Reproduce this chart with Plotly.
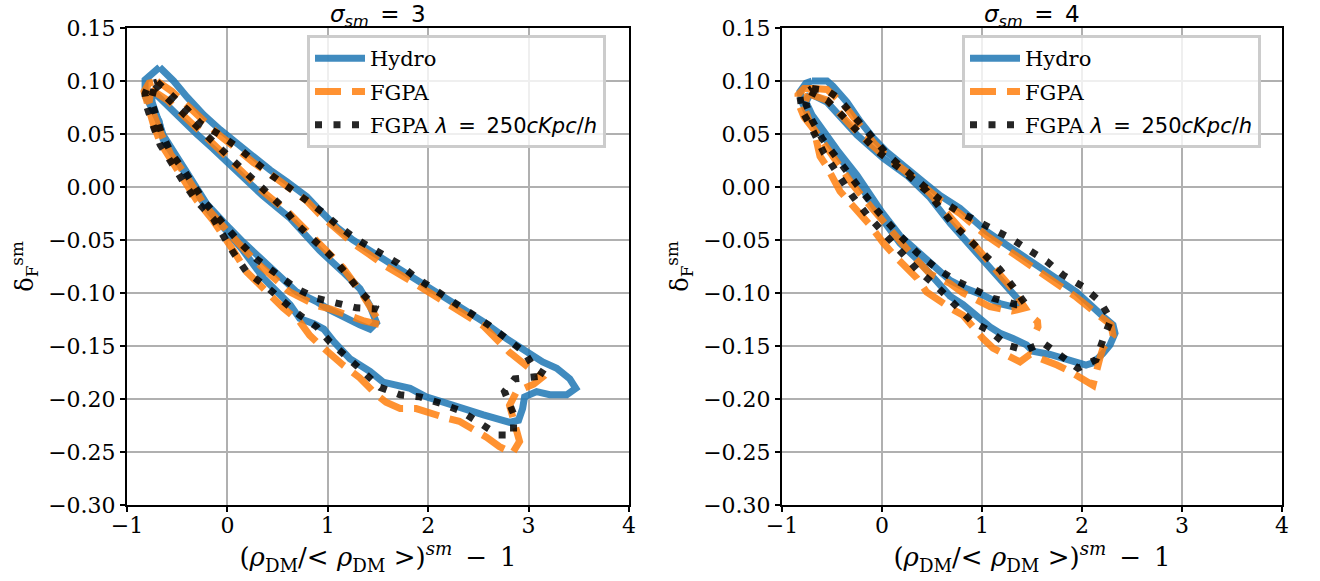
import plotly.graph_objects as go

# ---------------- data ----------------
# Panel 1: sigma_sm = 3
hydro3_outer_x = [-0.675,-0.536,-0.403,-0.237,-0.072,0.094,0.26,0.426,0.59,0.79,0.92,1.09,1.25,1.42,1.553,1.885,2.216,2.548,2.78,2.98,3.14,3.28,3.41,3.47,3.38,3.21,3.08,2.96,2.94,2.90,2.81,2.55,2.35,2.15,1.98,1.82,1.55,1.42,1.22,1.06,0.96,0.86,0.72,0.625,0.49,0.36,0.29,0.157,-0.04,-0.207,-0.406,-0.52,-0.64,-0.68,-0.75,-0.82,-0.82,-0.675]
hydro3_outer_y = [0.113,0.100,0.085,0.068,0.054,0.041,0.027,0.016,0.005,-0.009,-0.022,-0.038,-0.050,-0.060,-0.069,-0.088,-0.108,-0.127,-0.143,-0.155,-0.165,-0.171,-0.181,-0.190,-0.196,-0.196,-0.193,-0.198,-0.209,-0.220,-0.222,-0.215,-0.209,-0.204,-0.198,-0.190,-0.184,-0.174,-0.162,-0.146,-0.134,-0.129,-0.124,-0.111,-0.099,-0.086,-0.077,-0.060,-0.038,-0.020,0.011,0.027,0.045,0.062,0.075,0.086,0.101,0.113]
hydro3_inner_x = [-0.76,-0.605,-0.45,-0.306,-0.14,0.025,0.19,0.35,0.62,0.92,1.15,1.32,1.42,1.485,1.42,1.318,1.02,0.887,0.69,0.49,0.29,0.157,-0.04,-0.207,-0.406,-0.52,-0.64,-0.70,-0.75,-0.76]
hydro3_inner_y = [0.092,0.077,0.064,0.050,0.036,0.021,0.007,-0.008,-0.029,-0.060,-0.080,-0.096,-0.112,-0.128,-0.134,-0.130,-0.116,-0.108,-0.099,-0.082,-0.064,-0.052,-0.033,-0.016,0.014,0.031,0.049,0.066,0.080,0.092]

fgpa3_outer_x = [-0.70,-0.55,-0.40,-0.24,-0.07,0.094,0.26,0.43,0.59,0.79,0.92,1.09,1.25,1.42,1.55,1.885,2.216,2.548,2.81,3.01,3.13,3.05,2.88,2.81,2.86,2.91,2.84,2.71,2.58,2.45,2.31,2.18,2.01,1.88,1.72,1.58,1.485,1.318,1.152,1.02,0.887,0.82,0.72,0.555,0.39,0.19,0.06,-0.14,-0.31,-0.44,-0.57,-0.67,-0.74,-0.80,-0.83,-0.78,-0.70]
fgpa3_outer_y = [0.100,0.090,0.077,0.062,0.048,0.036,0.023,0.012,0.001,-0.013,-0.026,-0.041,-0.053,-0.064,-0.073,-0.092,-0.112,-0.131,-0.156,-0.171,-0.180,-0.186,-0.193,-0.206,-0.221,-0.240,-0.251,-0.245,-0.236,-0.228,-0.221,-0.218,-0.213,-0.209,-0.209,-0.203,-0.196,-0.180,-0.168,-0.158,-0.146,-0.140,-0.127,-0.114,-0.099,-0.080,-0.060,-0.032,-0.012,0.007,0.026,0.042,0.060,0.077,0.090,0.098,0.100]
fgpa3_inner_x = [-0.76,-0.60,-0.30,0.03,0.35,0.62,0.92,1.15,1.35,1.45,1.53,1.35,1.22,1.02,0.89,0.62,0.455,0.29,0.10,-0.06,-0.22,-0.42,-0.56,-0.66,-0.72,-0.78,-0.76]
fgpa3_inner_y = [0.092,0.082,0.055,0.026,-0.004,-0.025,-0.055,-0.076,-0.102,-0.117,-0.130,-0.126,-0.121,-0.115,-0.112,-0.099,-0.085,-0.071,-0.052,-0.036,-0.018,0.012,0.030,0.050,0.066,0.080,0.092]

lam3_outer_x = [-0.70,-0.55,-0.40,-0.27,-0.07,0.094,0.26,0.44,0.62,0.79,0.95,1.12,1.30,1.50,1.70,1.87,2.05,2.23,2.42,2.60,2.78,2.96,3.05,3.18,2.86,2.76,2.85,2.85,2.70,2.51,2.32,2.12,1.92,1.72,1.52,1.35,1.19,1.02,0.89,0.72,0.545,0.39,0.19,0.06,-0.14,-0.31,-0.44,-0.57,-0.67,-0.74,-0.80,-0.82,-0.78,-0.70]
lam3_outer_y = [0.099,0.087,0.073,0.060,0.049,0.038,0.025,0.011,-0.001,-0.012,-0.024,-0.038,-0.050,-0.061,-0.072,-0.085,-0.096,-0.108,-0.119,-0.130,-0.143,-0.156,-0.170,-0.178,-0.181,-0.193,-0.214,-0.234,-0.234,-0.222,-0.211,-0.204,-0.198,-0.196,-0.189,-0.174,-0.160,-0.146,-0.132,-0.121,-0.107,-0.094,-0.080,-0.062,-0.030,-0.013,0.005,0.024,0.040,0.058,0.075,0.088,0.097,0.099]
lam3_inner_x = [-0.72,-0.60,-0.30,0.03,0.35,0.56,0.69,0.86,1.02,1.17,1.30,1.42,1.49,1.285,1.085,0.887,0.69,0.505,0.29,0.10,-0.06,-0.22,-0.42,-0.56,-0.66,-0.72,-0.76,-0.72]
lam3_inner_y = [0.097,0.084,0.057,0.028,-0.002,-0.020,-0.035,-0.050,-0.064,-0.080,-0.096,-0.108,-0.115,-0.114,-0.110,-0.105,-0.096,-0.083,-0.068,-0.050,-0.033,-0.015,0.014,0.032,0.052,0.068,0.082,0.097]

# Panel 2: sigma_sm = 4
hydro4_outer_x = [-0.70,-0.55,-0.49,-0.35,-0.22,-0.086,0.048,0.214,0.41,0.58,0.78,1.046,1.345,1.645,1.944,2.21,2.31,2.33,2.28,2.21,2.11,2.04,1.845,1.68,1.51,1.445,1.31,1.18,1.08,0.946,0.81,0.68,0.48,0.35,0.18,0.0,-0.25,-0.45,-0.60,-0.72,-0.80,-0.82,-0.76,-0.70]
hydro4_outer_y = [0.100,0.100,0.095,0.080,0.062,0.046,0.033,0.021,0.005,-0.008,-0.020,-0.042,-0.061,-0.080,-0.099,-0.122,-0.130,-0.138,-0.149,-0.157,-0.166,-0.168,-0.162,-0.158,-0.155,-0.149,-0.143,-0.138,-0.132,-0.121,-0.111,-0.103,-0.082,-0.068,-0.053,-0.030,0.006,0.030,0.050,0.065,0.080,0.090,0.098,0.100]
hydro4_inner_x = [-0.72,-0.55,-0.25,0.014,0.25,0.48,0.68,0.946,1.18,1.31,1.38,1.31,1.18,1.01,0.846,0.68,0.48,0.35,0.18,0.0,-0.25,-0.45,-0.60,-0.70,-0.76,-0.72]
hydro4_inner_y = [0.088,0.080,0.049,0.027,0.011,-0.010,-0.034,-0.062,-0.086,-0.099,-0.108,-0.113,-0.110,-0.102,-0.096,-0.088,-0.072,-0.061,-0.046,-0.024,0.011,0.035,0.054,0.068,0.080,0.088]

fgpa4_outer_x = [-0.68,-0.55,-0.49,-0.35,-0.22,-0.086,0.048,0.214,0.41,0.58,0.78,1.046,1.345,1.645,1.944,2.18,2.29,2.31,2.21,2.18,2.15,2.11,1.88,1.75,1.48,1.38,1.11,1.01,0.81,0.68,0.445,0.35,0.147,0.015,-0.12,-0.25,-0.42,-0.55,-0.62,-0.68,-0.78,-0.84,-0.84,-0.78,-0.68]
fgpa4_outer_y = [0.093,0.092,0.087,0.074,0.058,0.042,0.029,0.016,0.001,-0.012,-0.025,-0.046,-0.065,-0.084,-0.104,-0.122,-0.130,-0.140,-0.152,-0.161,-0.171,-0.187,-0.174,-0.168,-0.158,-0.165,-0.152,-0.143,-0.121,-0.114,-0.099,-0.086,-0.067,-0.053,-0.036,-0.022,-0.004,0.019,0.029,0.054,0.066,0.080,0.087,0.093,0.093]
fgpa4_inner_x = [-0.74,-0.55,-0.25,0.014,0.25,0.48,0.68,0.946,1.18,1.31,1.43,1.30,1.08,0.81,0.68,0.48,0.30,0.10,-0.10,-0.30,-0.50,-0.62,-0.72,-0.78,-0.74]
fgpa4_inner_y = [0.088,0.082,0.052,0.030,0.014,-0.006,-0.028,-0.058,-0.082,-0.097,-0.114,-0.117,-0.113,-0.100,-0.091,-0.082,-0.064,-0.043,-0.020,0.003,0.030,0.046,0.060,0.076,0.088]
# small isolated FGPA contour island near (1.55, -0.13)
fgpa4_island_x = [1.53, 1.555, 1.56, 1.545]
fgpa4_island_y = [-0.125, -0.127, -0.132, -0.135]

lam4_outer_x = [-0.70,-0.55,-0.45,-0.33,-0.20,-0.07,0.06,0.22,0.40,0.58,0.78,0.93,1.08,1.28,1.46,1.645,1.81,2.01,2.18,2.29,2.21,2.14,1.96,1.79,1.61,1.43,1.245,1.08,0.90,0.73,0.55,0.35,0.17,0.0,-0.15,-0.30,-0.45,-0.58,-0.70,-0.80,-0.82,-0.70]
lam4_outer_y = [0.093,0.091,0.085,0.072,0.057,0.043,0.030,0.017,0.002,-0.012,-0.024,-0.031,-0.039,-0.048,-0.059,-0.070,-0.083,-0.094,-0.108,-0.125,-0.144,-0.163,-0.171,-0.160,-0.147,-0.154,-0.149,-0.136,-0.127,-0.111,-0.094,-0.078,-0.060,-0.043,-0.026,-0.008,0.012,0.032,0.055,0.072,0.085,0.093]
lam4_inner_x = [-0.72,-0.55,-0.30,-0.05,0.20,0.45,0.70,0.86,1.01,1.18,1.31,1.44,1.345,1.11,0.93,0.73,0.55,0.35,0.15,-0.05,-0.25,-0.45,-0.60,-0.70,-0.76,-0.72]
lam4_inner_y = [0.090,0.082,0.058,0.034,0.016,-0.004,-0.034,-0.048,-0.063,-0.078,-0.094,-0.111,-0.111,-0.105,-0.097,-0.088,-0.077,-0.062,-0.043,-0.022,0.002,0.026,0.046,0.063,0.078,0.090]

series_names = [
    "Hydro",
    "FGPA",
    "FGPA <span style='font-family:DejaVu Sans'><i>λ</i>\u2002=\u2002250<i>cKpc</i>/<i>h</i></span>",
]
panel_titles = ["<i>σ<sub>sm</sub></i>\u2002=\u20023", "<i>σ<sub>sm</sub></i>\u2002=\u20024"]
x_ticks = [-1, 0, 1, 2, 3, 4]
y_ticks = [0.15, 0.10, 0.05, 0.00, -0.05, -0.10, -0.15, -0.20, -0.25, -0.30]

# ---------------- styling ----------------
W, H = 1320, 581
SERIF = "DejaVu Serif"
SANS = "DejaVu Sans"
styles = [
    dict(color="#1f77b4", dash="solid"),
    dict(color="#ff7f0e", dash="26px,11px"),
    dict(color="#000000", dash="7px,11.5px"),
]
LW = 7


def join(*loops):
    xs, ys = [], []
    for i in range(0, len(loops), 2):
        if xs:
            xs.append(None)
            ys.append(None)
        xs += list(loops[i])
        ys += list(loops[i + 1])
    return xs, ys


panels = [
    [join(hydro3_outer_x, hydro3_outer_y, hydro3_inner_x, hydro3_inner_y),
     join(fgpa3_outer_x, fgpa3_outer_y, fgpa3_inner_x, fgpa3_inner_y),
     join(lam3_outer_x, lam3_outer_y, lam3_inner_x, lam3_inner_y)],
    [join(hydro4_outer_x, hydro4_outer_y, hydro4_inner_x, hydro4_inner_y),
     join(fgpa4_outer_x, fgpa4_outer_y, fgpa4_inner_x, fgpa4_inner_y, fgpa4_island_x, fgpa4_island_y),
     join(lam4_outer_x, lam4_outer_y, lam4_inner_x, lam4_inner_y)],
]

fig = go.Figure()
for p, traces in enumerate(panels):
    xa = "x" if p == 0 else "x2"
    ya = "y" if p == 0 else "y2"
    lg = "legend" if p == 0 else "legend2"
    for s, (xs, ys) in enumerate(traces):
        fig.add_trace(go.Scatter(
            x=xs, y=ys, mode="lines", name=series_names[s],
            xaxis=xa, yaxis=ya, legend=lg, legendgroup=f"g{p}{s}",
            opacity=0.85,
            line=dict(color=styles[s]["color"], width=LW, dash=styles[s]["dash"]),
            connectgaps=False,
        ))

left_dom = [127 / W, 629 / W]
right_dom = [782 / W, 1282 / W]
y_dom = [1 - 505 / H, 1 - 28 / H]


def axis(**kw):
    d = dict(
        showline=True, linecolor="black", linewidth=2, mirror=True,
        ticks="outside", ticklen=5, tickwidth=2, tickcolor="black",
        showgrid=True, gridcolor="#b0b0b0", gridwidth=2,
        zeroline=False, automargin=False,
        tickfont=dict(family=SERIF, size=22, color="black"),
    )
    d.update(kw)
    return d


xlab = "(<i>ρ</i><sub>DM</sub>/&lt; <i>ρ</i><sub>DM</sub> &gt;)<sup><i>sm</i></sup>\u2002−\u20021"
ylab = "δ<sub>F</sub><sup>sm</sup>"
xtitle = dict(text=xlab, standoff=0, font=dict(family=SERIF, size=26, color="black"))
ytitle = dict(text=ylab, standoff=8, font=dict(family=SERIF, size=24, color="black"))

legend_common = dict(
    xanchor="left", yanchor="top",
    bgcolor="rgba(255,255,255,0.8)", bordercolor="#cccccc", borderwidth=3,
    font=dict(family=SERIF, size=21, color="black"), tracegroupgap=3, itemwidth=50,
)

fig.update_layout(
    width=W, height=H,
    margin=dict(l=0, r=0, t=0, b=0, autoexpand=False),
    paper_bgcolor="white", plot_bgcolor="white",
    font=dict(family=SERIF, size=21, color="black"),
    xaxis=axis(domain=left_dom, range=[-1, 4], tickvals=x_ticks, anchor="y", title=xtitle,
               ticklabelstandoff=-5),
    yaxis=axis(domain=y_dom, range=[-0.30, 0.15], tickvals=y_ticks, tickformat=".2f", anchor="x", title=ytitle),
    xaxis2=axis(domain=right_dom, range=[-1, 4], tickvals=x_ticks, anchor="y2", title=xtitle,
                ticklabelstandoff=-5),
    yaxis2=axis(domain=y_dom, range=[-0.30, 0.15], tickvals=y_ticks, tickformat=".2f", anchor="x2", title=ytitle),
    legend=dict(x=307 / W, y=1 - 35 / H, **legend_common),
    legend2=dict(x=962 / W, y=1 - 35 / H, **legend_common),
    annotations=[
        dict(text=panel_titles[0], x=sum(left_dom) / 2, y=1 - 16 / H, xref="paper", yref="paper",
             showarrow=False, font=dict(family=SANS, size=23, color="black"), xanchor="center", yanchor="middle"),
        dict(text=panel_titles[1], x=sum(right_dom) / 2, y=1 - 16 / H, xref="paper", yref="paper",
             showarrow=False, font=dict(family=SANS, size=23, color="black"), xanchor="center", yanchor="middle"),
    ],
)

fig.write_html("out.html")
